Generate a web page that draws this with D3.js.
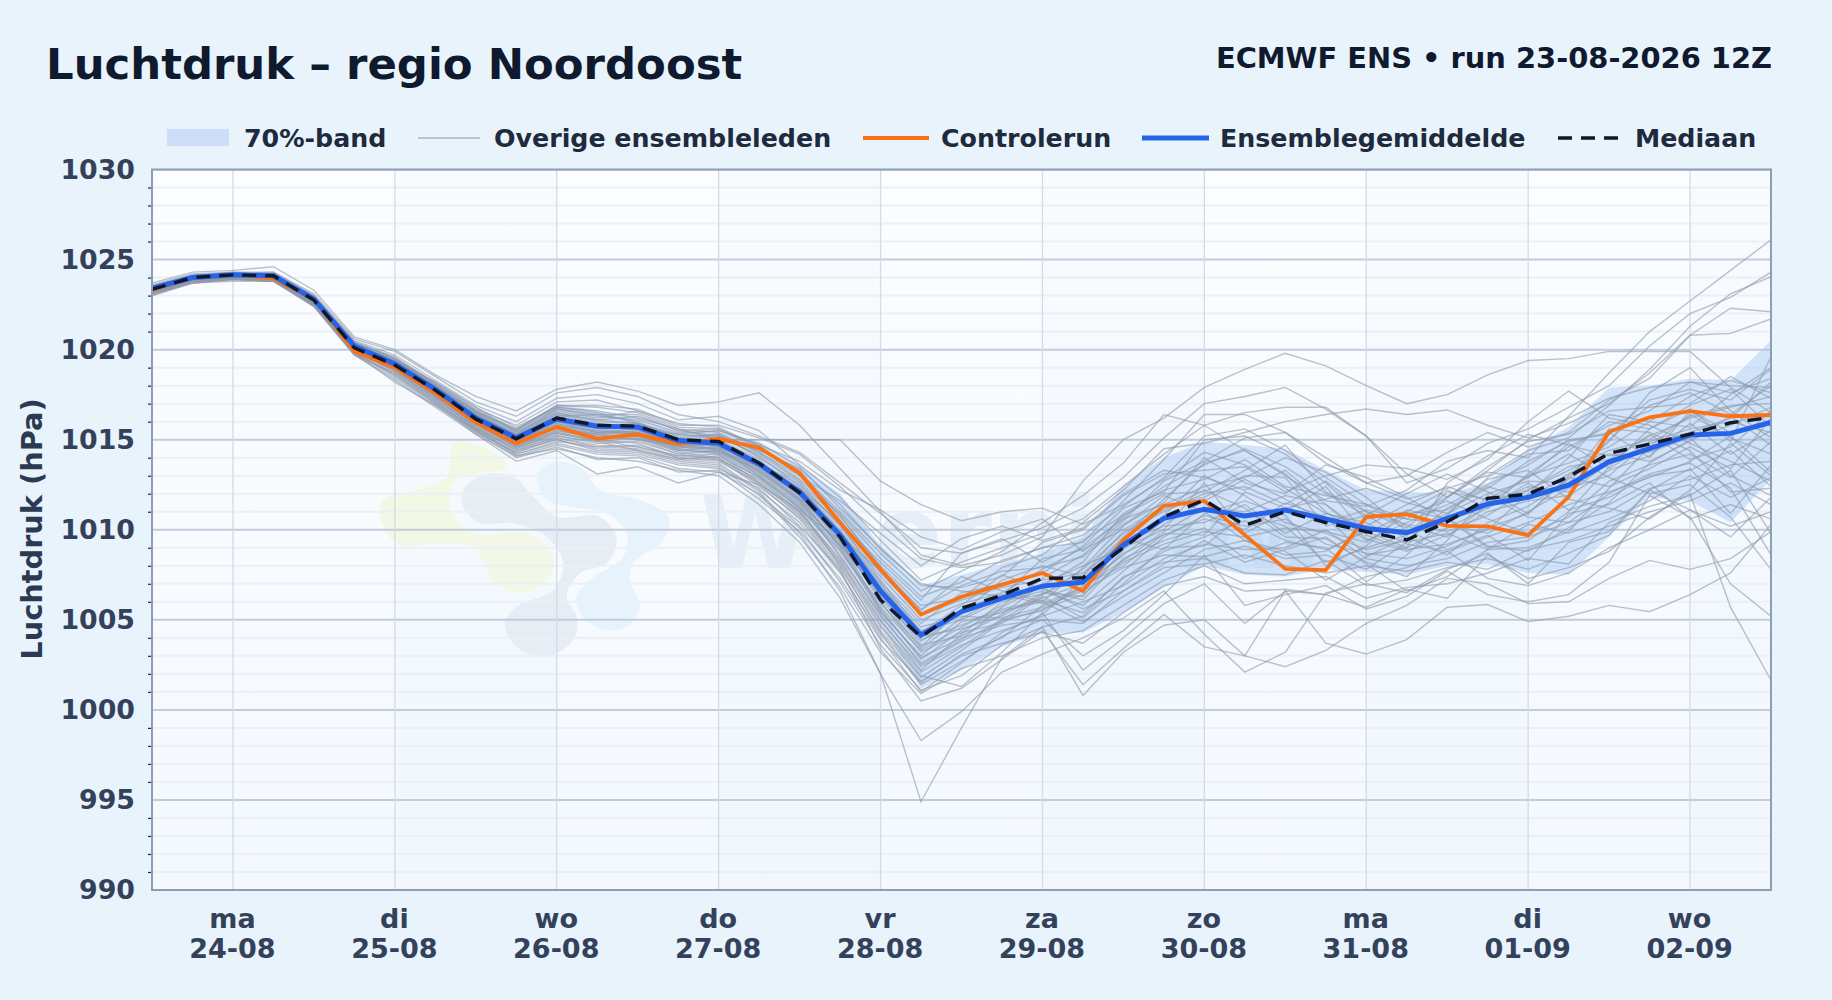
<!DOCTYPE html>
<html lang="nl">
<head>
<meta charset="utf-8">
<title>Luchtdruk - regio Noordoost</title>
<script src="https://d3js.org/d3.v7.min.js"></script>
<style>
html, body { margin: 0; background: #e8f3fc; }
svg { display: block; }
text { font-family: "DejaVu Sans", sans-serif; font-weight: bold; }
.domain { display: none; }
</style>
</head>
<body>
<script>
// hours since the run start, one point per 6 h
var hours = d3.range(0, 246, 6);

var weekdays = ["ma", "di", "wo", "do", "vr", "za", "zo", "ma", "di", "wo"];
var dates = ["24-08", "25-08", "26-08", "27-08", "28-08", "29-08", "30-08", "31-08", "01-09", "02-09"];
var dayTicks = [12, 36, 60, 84, 108, 132, 156, 180, 204, 228];
var majorTicks = [990, 995, 1000, 1005, 1010, 1015, 1020, 1025, 1030];
var minorTicks = d3.range(990, 1031).filter(function(d) { return d % 5 != 0; });

var control = [1023.3,1024.0,1024.15,1023.95, 1022.8,1019.9,1019.0,1017.6,1015.95,1014.8, 1015.7,1015.05,1015.3,1014.75,1015.05,1014.55,1013.15, 1010.4,1007.8,1005.3,1006.28,1006.95,1007.6,1006.6, 1009.43,1011.33,1011.6,1009.7,1007.83,1007.76,1010.72, 1010.87,1010.22,1010.19,1009.7,1011.83,1015.44,1016.24, 1016.59,1016.3,1016.37];
var mean = [1023.4,1024.0,1024.15,1024.1, 1022.8,1020.2,1019.2,1017.8,1016.2,1015.1, 1016.15,1015.75,1015.7,1014.95,1014.8,1013.65,1012.1, 1009.7,1006.6,1004.15,1005.45,1006.2,1006.87,1007.1, 1009.15,1010.63,1011.13,1010.76,1011.09,1010.6,1010.07, 1009.83,1010.63,1011.43,1011.8,1012.48,1013.77,1014.5, 1015.26,1015.35,1015.96];
var median = [1023.35,1024.0,1024.15,1024.1, 1022.75,1020.1,1019.15,1017.75,1016.15,1015.05, 1016.2,1015.8,1015.75,1015.0,1014.9,1013.7,1012.05, 1009.6,1006.1,1004.05,1005.65,1006.37,1007.3,1007.33, 1009.0,1010.72,1011.65,1010.25,1011.0,1010.4,1009.9, 1009.43,1010.44,1011.74,1011.98,1012.94,1014.24,1014.76, 1015.31,1015.94,1016.24];
var bandHigh = [1023.6,1024.2,1024.3,1024.3, 1023.0,1020.5,1019.6,1018.2,1016.7,1015.6, 1017.0,1016.6,1016.3,1015.4,1015.4,1014.9,1013.6, 1012.0,1009.1,1006.9,1007.5,1008.1,1008.7,1009.6, 1012.5,1014.0,1014.9,1014.7,1014.5,1013.3,1012.2, 1012.1,1012.0,1012.6,1014.5,1015.7,1017.9,1018.0, 1018.4,1018.3,1020.5];
var bandLow = [1023.2,1023.8,1024.0,1023.9, 1022.6,1019.9,1018.9,1017.4,1015.8,1014.6, 1015.3,1015.0,1015.0,1014.3,1014.1,1012.8,1011.0, 1008.7,1004.8,1001.2,1002.2,1003.5,1004.25,1004.3, 1005.4,1006.8,1008.0,1007.5,1007.4,1007.8,1007.65, 1007.5,1008.0,1008.1,1007.6,1007.5,1009.6,1011.8, 1011.6,1010.4,1012.8];

var members = [
[1023.7,1024.3,1024.4,1024.6, 1023.3,1020.7,1020.0,1018.6,1017.4,1016.6, 1017.8,1018.2,1017.7,1016.9,1017.1,1017.6,1015.8, 1013.4,1011.0,1008.6,1008.0,1008.6,1009.6,1012.7, 1015.0,1016.2,1017.9,1018.9,1019.8,1019.1,1018.0, 1017.0,1017.5,1018.6,1019.4,1019.5,1019.9,1019.9, 1019.9,1017.9,1016.5],
[1023.3,1023.9,1024.1,1024.0, 1022.7,1020.3,1019.3,1017.9,1016.6,1015.6, 1016.8,1016.6,1016.2,1015.6,1015.0,1015.0,1015.0, 1015.0,1012.7,1011.4,1010.5,1011.0,1011.2,1010.3, 1011.4,1012.8,1014.3,1013.6,1012.3,1010.9,1010.2, 1011.4,1012.4,1011.6,1012.2,1013.3,1014.4,1015.0, 1016.3,1016.9,1017.0],
[1023.6,1024.2,1024.3,1024.3, 1023.1,1020.6,1019.9,1018.5,1017.1,1016.3, 1017.6,1017.9,1017.4,1016.4,1016.0,1015.2,1014.3, 1012.6,1010.9,1009.0,1008.7,1009.4,1010.1,1011.2, 1012.9,1015.1,1017.0,1017.4,1017.9,1016.7,1015.2, 1013.1,1011.8,1013.3,1015.0,1016.2,1017.3,1017.9, 1018.2,1017.6,1018.4],
[1023.5,1024.1,1024.3,1024.2, 1023.0,1020.5,1019.7,1018.3,1016.9,1016.0, 1017.3,1017.5,1017.0,1016.1,1016.3,1015.5,1013.6, 1011.8,1009.4,1007.2,1008.2,1009.0,1009.8,1010.6, 1012.4,1014.2,1015.8,1016.5,1016.8,1016.8,1015.2, 1012.6,1013.4,1014.8,1015.6,1016.8,1018.0,1020.2, 1022.0,1022.9,1024.3],
[1023.4,1024.1,1024.2,1024.2, 1022.9,1020.4,1019.5,1018.1,1016.7,1015.8, 1017.1,1017.2,1016.6,1015.9,1015.7,1014.6,1013.1, 1011.0,1008.7,1006.6,1007.7,1008.8,1010.4,1011.9, 1013.7,1016.4,1015.8,1014.4,1013.0,1011.6,1011.3, 1012.2,1013.8,1014.4,1014.0,1016.3,1018.7,1021.0, 1022.7,1024.4,1026.1],
[1023.2,1023.9,1024.1,1024.0, 1022.7,1020.3,1019.4,1018.0,1016.5,1015.6, 1016.9,1016.8,1016.5,1015.6,1015.4,1014.3,1012.8, 1010.9,1008.4,1006.3,1007.1,1008.3,1009.0,1009.3, 1011.6,1013.9,1016.4,1016.4,1015.4,1014.0,1012.6, 1011.7,1012.3,1013.0,1014.4,1015.1,1016.9,1018.9, 1021.3,1023.1,1024.05],
[1023.5,1024.0,1024.2,1024.1, 1022.8,1020.3,1019.4,1018.2,1016.8,1015.4, 1016.6,1016.2,1016.6,1015.7,1015.6,1014.5,1013.3, 1010.7,1008.0,1005.8,1006.2,1007.9,1008.6,1010.4, 1012.2,1014.5,1014.8,1015.4,1016.0,1016.4,1016.7, 1016.4,1016.65,1015.8,1015.1,1015.9,1017.0,1018.7, 1020.8,1022.3,1022.1],
[1023.1,1023.8,1024.0,1023.9, 1022.5,1020.0,1019.0,1017.6,1016.0,1014.9, 1015.9,1015.4,1015.3,1014.6,1014.8,1013.2,1011.6, 1009.1,1005.7,1003.3,1004.6,1005.8,1007.3,1008.6, 1010.5,1012.7,1013.8,1015.1,1015.4,1013.7,1012.6, 1013.0,1014.3,1015.4,1014.6,1015.4,1017.2,1018.4, 1020.8,1020.9,1021.7],
[1023.3,1023.9,1024.2,1024.0, 1022.6,1020.2,1019.1,1017.7,1016.3,1015.2, 1016.3,1016.4,1016.0,1015.0,1015.2,1014.1,1012.4, 1010.0,1007.1,1004.8,1006.5,1007.0,1007.6,1009.1, 1011.2,1012.1,1015.0,1015.2,1014.2,1012.6,1010.6, 1011.0,1012.2,1011.2,1013.1,1014.6,1015.8,1016.6, 1018.2,1018.0,1017.9],
[1023.4,1024.0,1024.1,1024.1, 1022.8,1020.1,1019.2,1017.8,1016.1,1014.9, 1016.0,1015.6,1015.7,1014.7,1014.5,1013.4,1011.9, 1009.3,1006.3,1003.8,1005.4,1007.2,1008.0,1007.4, 1009.6,1011.7,1013.7,1014.4,1013.1,1011.0,1009.4, 1010.4,1011.4,1012.5,1013.6,1015.0,1015.3,1017.2, 1017.8,1017.2,1018.9],
[1023.2,1023.8,1024.0,1023.9, 1022.6,1020.0,1019.0,1017.4,1015.9,1014.7, 1015.7,1015.2,1015.2,1014.4,1014.6,1013.0,1011.3, 1008.6,1005.2,1002.6,1003.9,1005.7,1006.9,1008.2, 1010.9,1012.2,1012.8,1013.9,1012.4,1011.9,1011.4, 1010.2,1009.6,1011.4,1013.0,1013.7,1014.6,1016.0, 1017.4,1018.3,1017.6],
[1023.5,1024.1,1024.2,1024.2, 1022.9,1020.3,1019.3,1017.9,1016.4,1015.3, 1016.5,1016.0,1015.9,1015.2,1015.3,1014.0,1012.6, 1010.2,1007.4,1005.0,1005.9,1006.5,1007.8,1009.0, 1010.6,1011.4,1012.4,1012.9,1014.0,1013.2,1011.8, 1009.9,1010.9,1012.0,1012.7,1012.6,1015.0,1016.9, 1017.6,1016.4,1018.0],
[1023.3,1023.9,1024.1,1024.1, 1022.8,1020.2,1019.2,1017.7,1016.2,1015.0, 1016.1,1015.8,1015.5,1014.9,1014.4,1013.5,1012.0, 1009.6,1006.8,1004.4,1005.0,1006.1,1006.4,1007.8, 1009.8,1011.0,1012.0,1012.4,1011.4,1012.7,1011.0, 1010.3,1009.9,1010.8,1012.2,1013.5,1013.9,1015.2, 1016.2,1016.8,1017.4],
[1023.2,1023.9,1024.0,1024.0, 1022.7,1020.1,1019.1,1017.6,1016.0,1014.8, 1015.8,1015.5,1015.4,1014.6,1014.3,1013.3,1011.8, 1009.0,1005.4,1003.0,1004.9,1005.4,1006.2,1007.0, 1008.6,1010.3,1011.6,1012.8,1011.7,1010.4,1011.1, 1010.6,1010.3,1009.8,1011.0,1012.3,1013.0,1014.9, 1015.6,1016.0,1015.4],
[1023.4,1024.0,1024.2,1024.1, 1022.8,1020.2,1019.3,1017.9,1016.3,1015.1, 1016.2,1015.7,1015.8,1015.1,1014.9,1013.8,1012.3, 1009.9,1007.0,1004.1,1004.5,1005.2,1006.5,1006.3, 1008.9,1010.8,1013.0,1011.9,1010.4,1009.8,1008.9, 1009.4,1011.2,1012.4,1011.7,1013.1,1014.2,1013.8, 1014.9,1016.3,1014.7],
[1023.3,1023.9,1024.1,1024.0, 1022.7,1020.0,1019.0,1017.5,1015.9,1014.6, 1015.5,1015.1,1015.2,1014.5,1014.2,1012.9,1011.2, 1008.8,1005.9,1003.5,1005.6,1006.4,1005.9,1006.8, 1008.3,1009.9,1011.2,1011.0,1011.9,1011.4,1009.5, 1008.8,1009.7,1011.0,1011.6,1011.9,1013.3,1014.1, 1015.9,1014.2,1015.5],
[1023.2,1023.8,1024.0,1023.9, 1022.5,1019.9,1018.8,1017.3,1015.7,1014.5, 1015.4,1014.9,1015.1,1014.3,1014.0,1012.7,1011.0, 1008.4,1005.0,1002.2,1004.2,1006.0,1006.6,1005.8, 1007.7,1009.6,1010.8,1010.2,1010.6,1009.2,1008.7, 1008.4,1009.1,1010.1,1010.9,1012.9,1012.4,1013.4, 1014.6,1013.4,1016.2],
[1023.4,1024.0,1024.1,1024.1, 1022.9,1020.3,1019.4,1018.0,1016.4,1015.3, 1016.4,1015.9,1015.6,1015.3,1015.1,1014.2,1012.7, 1010.5,1007.6,1005.3,1006.1,1006.8,1007.2,1007.6, 1009.3,1010.2,1010.4,1011.4,1009.8,1010.9,1010.4, 1009.2,1008.8,1009.6,1010.4,1011.4,1012.1,1012.9, 1013.8,1015.2,1013.2],
[1023.1,1023.8,1023.9,1023.8, 1022.5,1019.8,1018.7,1017.2,1015.6,1014.4, 1015.2,1014.8,1014.9,1014.2,1013.9,1012.4,1010.7, 1007.9,1004.4,1001.8,1003.3,1004.9,1005.6,1006.4, 1008.2,1009.2,1009.9,1009.6,1010.1,1009.9,1009.3, 1010.8,1011.6,1010.6,1009.8,1010.7,1012.7,1013.6, 1014.2,1012.9,1014.9],
[1023.3,1023.9,1024.0,1024.0, 1022.6,1020.1,1019.2,1017.6,1016.0,1014.8, 1015.6,1015.3,1015.0,1014.7,1014.4,1013.1,1011.5, 1009.2,1006.5,1003.9,1004.7,1005.6,1006.1,1005.4, 1007.3,1008.8,1009.6,1010.5,1009.4,1008.9,1009.9, 1009.0,1010.1,1011.2,1012.6,1011.1,1011.8,1013.0, 1013.3,1014.4,1012.4],
[1023.2,1023.8,1024.0,1023.9, 1022.6,1019.9,1018.9,1017.4,1015.8,1014.6, 1015.3,1015.0,1014.6,1014.1,1014.2,1012.6,1010.9, 1008.2,1004.9,1002.4,1003.6,1004.4,1005.2,1006.0, 1006.9,1008.4,1009.2,1008.9,1009.0,1010.0,1008.4, 1008.0,1008.4,1009.3,1009.6,1010.4,1011.0,1012.3, 1012.8,1013.6,1013.8],
[1023.4,1023.9,1024.1,1024.0, 1022.7,1020.0,1019.0,1017.7,1016.1,1014.9, 1015.9,1015.4,1015.4,1014.8,1014.6,1013.6,1012.2, 1009.8,1006.9,1004.6,1005.2,1005.1,1005.7,1006.6, 1007.9,1008.6,1008.5,1009.1,1008.4,1008.6,1007.8, 1009.3,1009.8,1008.9,1010.3,1009.8,1010.6,1011.6, 1013.0,1011.8,1012.9],
[1023.1,1023.7,1023.9,1023.8, 1022.5,1019.8,1018.6,1017.1,1015.5,1014.2, 1014.9,1014.6,1014.5,1013.9,1013.7,1012.2,1010.4, 1007.6,1004.2,1001.4,1002.7,1004.1,1005.0,1004.8, 1006.6,1007.9,1008.1,1008.6,1008.0,1007.6,1008.0, 1007.7,1008.2,1007.8,1008.9,1009.4,1010.2,1011.0, 1011.6,1012.6,1011.4],
[1023.2,1023.8,1023.9,1023.9, 1022.6,1019.9,1018.8,1017.2,1015.4,1014.3, 1015.0,1014.4,1014.3,1013.7,1013.5,1011.9,1010.1, 1007.1,1003.6,1001.1,1001.9,1003.6,1004.6,1005.2, 1007.4,1008.2,1008.4,1007.6,1007.5,1008.3,1006.9, 1007.2,1007.9,1008.4,1007.8,1008.7,1009.7,1012.2, 1013.4,1010.9,1013.6],
[1023.3,1023.9,1024.0,1023.9, 1022.5,1019.8,1018.6,1017.0,1015.3,1014.1, 1014.7,1014.2,1014.1,1013.4,1013.2,1012.0,1009.6, 1006.8,1003.2,1000.9,1002.3,1003.0,1004.0,1004.4, 1005.8,1007.2,1008.0,1007.0,1007.2,1007.4,1006.2, 1006.8,1007.0,1007.6,1008.4,1008.1,1010.4,1011.3, 1011.9,1013.3,1009.8],
[1023.1,1023.7,1023.8,1023.8, 1022.4,1019.7,1018.4,1016.9,1015.4,1014.0, 1014.6,1013.9,1014.0,1013.2,1013.3,1011.7,1009.9, 1007.3,1003.9,1001.6,1003.0,1003.7,1004.3,1003.7, 1005.4,1006.9,1007.4,1006.6,1006.7,1006.4,1007.4, 1007.9,1008.8,1007.3,1006.9,1007.6,1009.0,1010.0, 1011.1,1010.2,1011.0],
[1023.0,1023.7,1023.9,1023.8, 1022.4,1019.7,1018.3,1016.8,1015.3,1013.8, 1014.4,1013.1,1013.5,1012.6,1013.2,1012.5,1011.1, 1009.4,1005.5,1002.9,1004.0,1004.7,1005.0,1003.0, 1004.4,1006.4,1008.6,1005.8,1006.4,1006.9,1005.6, 1006.3,1007.7,1006.4,1006.0,1006.4,1008.2,1011.9, 1010.7,1007.0,1005.2],
[1023.2,1023.8,1024.0,1023.8, 1022.6,1019.8,1018.5,1017.0,1015.6,1014.2, 1014.8,1014.3,1014.2,1013.6,1013.4,1012.3,1010.2, 1007.8,1003.4,1000.5,1001.2,1002.8,1004.4,1001.4, 1003.4,1005.3,1003.5,1003.0,1002.4,1003.3,1004.8, 1005.8,1007.3,1007.0,1005.9,1006.0,1007.3,1008.3, 1007.8,1008.4,1009.9],
[1023.1,1023.8,1023.9,1023.8, 1022.5,1019.8,1018.2,1016.9,1015.5,1014.1, 1014.5,1014.0,1013.8,1013.3,1013.0,1011.4,1009.3, 1006.2,1002.0,998.3,999.9,1002.1,1003.1,1004.0, 1005.1,1006.6,1004.2,1002.1,1003.2,1006.5,1007.0, 1006.5,1007.8,1008.7,1007.0,1009.3,1009.9,1012.2, 1011.1,1009.6,1011.8],
[1023.3,1023.8,1024.0,1023.9, 1022.6,1020.0,1018.9,1017.3,1015.7,1014.4, 1015.0,1014.5,1014.4,1013.8,1013.6,1012.1,1009.8, 1006.6,1002.0,994.9,999.0,1002.9,1004.6,1000.8, 1003.2,1004.7,1005.0,1003.0,1006.6,1003.7,1003.1, 1003.9,1005.7,1005.85,1004.9,1005.2,1005.8,1005.45, 1006.4,1007.6,1010.3],
[1023.0,1023.7,1023.9,1023.8, 1022.4,1019.7,1018.7,1017.1,1015.5,1014.3, 1015.1,1014.7,1014.6,1014.0,1013.8,1012.6,1010.8, 1008.1,1004.6,1001.9,1001.3,1003.2,1005.4,1002.2, 1004.0,1005.9,1007.0,1004.8,1006.6,1006.4,1005.7, 1006.7,1006.2,1008.6,1007.3,1007.9,1008.8,1010.7, 1012.0,1005.7,1001.65],
[1023.4,1024.0,1024.2,1024.2, 1022.9,1020.4,1019.6,1018.1,1016.6,1015.5, 1016.7,1016.3,1016.1,1015.4,1015.5,1014.7,1013.0, 1010.8,1007.9,1005.5,1007.4,1006.6,1006.0,1007.9, 1010.2,1011.9,1011.0,1009.4,1008.8,1007.2,1008.5, 1009.6,1008.6,1010.4,1011.3,1012.8,1015.6,1015.4, 1014.4,1012.1,1012.3],
[1023.3,1023.9,1024.1,1024.0, 1022.7,1020.1,1019.1,1017.8,1016.2,1014.9, 1015.8,1015.3,1015.5,1014.8,1014.7,1013.7,1012.5, 1010.3,1007.2,1004.3,1005.8,1007.5,1006.7,1006.1, 1008.4,1009.4,1010.1,1008.4,1009.3,1009.0,1007.1, 1008.6,1010.7,1009.1,1008.8,1010.1,1011.5,1013.7, 1015.0,1015.8,1016.8],
[1023.4,1024.0,1024.1,1024.0, 1022.8,1020.2,1019.2,1017.8,1016.4,1015.2, 1016.0,1015.5,1015.3,1014.5,1015.0,1013.9,1012.0, 1009.5,1006.0,1003.2,1004.3,1004.8,1006.3,1005.1, 1007.0,1009.0,1009.1,1010.9,1010.2,1008.2,1009.0, 1009.7,1011.8,1013.2,1012.9,1014.2,1012.9,1012.0, 1012.5,1010.7,1007.8],
[1023.2,1023.9,1024.0,1024.0, 1022.6,1020.0,1018.9,1017.5,1015.9,1014.7, 1015.4,1015.0,1014.8,1014.0,1013.9,1012.8,1011.0, 1008.3,1004.7,1002.1,1003.5,1005.0,1005.5,1006.9, 1008.0,1009.8,1009.7,1012.1,1011.2,1011.7,1012.3, 1011.5,1010.9,1012.8,1013.3,1011.7,1011.2,1010.6, 1012.2,1014.8,1013.0],
[1023.3,1023.9,1024.1,1024.1, 1022.7,1020.1,1019.3,1017.9,1016.2,1015.0, 1016.1,1015.6,1015.4,1014.9,1014.8,1013.4,1011.7, 1009.1,1006.4,1003.6,1004.1,1005.3,1007.0,1008.0, 1009.0,1010.0,1012.6,1009.8,1011.0,1012.4,1009.7, 1008.9,1009.2,1010.0,1012.0,1014.0,1016.4,1016.0, 1015.7,1017.5,1019.0],
[1023.4,1024.0,1024.2,1024.1, 1022.8,1020.2,1019.4,1018.0,1016.5,1015.4, 1016.5,1016.1,1016.3,1015.5,1015.2,1014.4,1013.4, 1011.4,1008.9,1007.0,1006.6,1006.3,1008.4,1008.9, 1010.0,1011.3,1011.8,1013.0,1012.9,1010.2,1010.8, 1012.0,1013.1,1012.1,1010.9,1013.0,1014.9,1017.6, 1019.0,1016.6,1015.1],
[1023.1,1023.8,1023.9,1023.9, 1022.5,1019.9,1018.8,1017.3,1015.6,1014.5, 1015.1,1014.6,1014.7,1014.1,1014.0,1012.5,1010.6, 1007.7,1004.0,1001.0,1002.6,1004.3,1005.3,1007.2, 1009.5,1008.9,1010.9,1011.6,1010.8,1008.0,1009.1, 1011.1,1010.6,1009.0,1009.4,1011.0,1013.5,1015.6, 1016.7,1014.9,1019.6],
[1023.5,1024.1,1024.2,1024.3, 1023.0,1020.4,1019.5,1018.2,1016.8,1015.7, 1016.8,1016.5,1015.9,1015.3,1015.5,1014.8,1013.5, 1011.2,1009.0,1006.9,1006.8,1007.4,1009.3,1010.0, 1011.9,1013.1,1013.3,1013.5,1012.1,1013.0,1013.6, 1013.4,1012.8,1013.9,1016.0,1017.7,1016.2,1015.8, 1014.8,1013.8,1012.7],
[1023.2,1023.8,1024.0,1024.0, 1022.6,1020.0,1019.0,1017.5,1015.8,1014.7, 1015.5,1015.1,1015.1,1014.4,1014.3,1013.0,1011.4, 1008.9,1005.6,1002.8,1004.4,1005.5,1006.0,1004.9, 1006.3,1007.6,1008.9,1009.4,1008.6,1008.8,1010.0, 1010.0,1008.9,1009.7,1008.3,1010.9,1011.4,1012.6, 1010.6,1011.4,1010.6],
[1023.3,1023.9,1024.1,1024.0, 1022.7,1020.1,1019.1,1017.7,1016.1,1015.0, 1016.0,1015.4,1015.6,1014.9,1014.6,1013.5,1011.9, 1009.4,1006.2,1003.4,1005.1,1006.3,1006.8,1005.6, 1006.6,1008.1,1009.4,1008.2,1008.9,1009.6,1008.1, 1006.6,1007.4,1008.9,1009.0,1009.9,1012.3,1014.6, 1016.4,1015.1,1014.2],
[1023.4,1023.9,1024.1,1024.0, 1022.7,1020.2,1019.2,1017.6,1016.0,1014.9, 1015.7,1015.2,1015.0,1014.2,1014.4,1013.3,1011.6, 1008.5,1005.3,1002.5,1003.8,1005.0,1006.4,1007.5, 1009.9,1011.1,1012.2,1011.2,1009.6,1009.5,1008.2, 1007.4,1009.4,1011.9,1010.7,1010.4,1012.0,1013.1, 1013.7,1012.3,1008.6],
[1023.2,1023.8,1024.0,1023.9, 1022.6,1019.9,1019.0,1017.4,1015.7,1014.6, 1015.2,1014.9,1014.4,1013.9,1014.1,1012.9,1011.2, 1008.0,1004.3,1001.5,1003.1,1004.0,1005.8,1006.7, 1008.7,1009.7,1010.6,1010.0,1011.5,1010.7,1008.6, 1009.0,1012.6,1014.1,1015.3,1014.7,1014.1,1014.3, 1015.1,1013.0,1011.9],
[1023.5,1024.1,1024.2,1024.2, 1022.9,1020.4,1019.5,1018.0,1016.6,1015.5, 1016.9,1016.9,1016.7,1015.8,1015.8,1015.1,1014.2, 1012.4,1010.3,1008.4,1007.9,1008.2,1009.0,1009.7, 1011.3,1012.9,1015.2,1015.6,1014.4,1012.9,1011.4, 1010.6,1011.8,1013.5,1014.9,1015.3,1016.6,1016.8, 1017.0,1018.5,1017.3],
[1023.3,1024.0,1024.1,1024.1, 1022.8,1020.3,1019.4,1017.9,1016.5,1015.3, 1016.7,1016.4,1016.4,1015.5,1015.6,1014.7,1013.8, 1012.2,1011.1,1009.6,1008.9,1009.9,1010.6,1008.8, 1010.7,1012.4,1013.6,1014.5,1013.5,1012.0,1010.8, 1009.5,1010.8,1012.9,1014.2,1014.4,1016.0,1015.6, 1016.9,1017.8,1015.7],
[1023.4,1024.0,1024.2,1024.0, 1022.7,1020.2,1019.3,1017.8,1016.3,1015.2, 1016.4,1016.1,1015.9,1015.1,1015.3,1014.3,1013.0, 1011.6,1009.8,1008.0,1009.5,1010.2,1009.4,1010.1, 1012.0,1013.3,1012.9,1012.2,1013.3,1011.4,1009.8, 1010.9,1011.1,1012.3,1013.8,1014.9,1015.4,1014.0, 1016.6,1015.4,1016.1],
[1023.2,1023.8,1024.1,1024.0, 1022.6,1020.1,1019.2,1017.7,1016.2,1014.8, 1016.2,1015.7,1015.6,1014.9,1014.9,1013.6,1012.3, 1010.4,1008.2,1006.1,1008.7,1009.5,1008.2,1009.4, 1010.8,1012.0,1012.1,1013.3,1014.7,1012.1,1011.0, 1010.1,1012.1,1011.7,1012.9,1014.8,1013.4,1014.8, 1015.4,1016.2,1018.2],
[1023.3,1023.9,1024.0,1024.0, 1022.7,1020.1,1019.0,1017.6,1016.1,1015.0, 1015.7,1015.3,1015.2,1014.6,1014.5,1013.2,1011.7, 1009.7,1007.7,1005.6,1006.9,1007.7,1007.9,1008.5, 1010.3,1011.5,1014.0,1012.6,1012.0,1013.6,1012.9, 1011.8,1010.5,1011.3,1012.4,1012.1,1013.7,1015.3, 1013.9,1014.6,1016.6]
];

var width = 1832, height = 1000;
var margin = {left: 152, right: 61, top: 169.5, bottom: 110};

var x = d3.scaleLinear().domain([0, 240]).range([margin.left, width - margin.right]);
var y = d3.scaleLinear().domain([990, 1030]).range([height - margin.bottom, margin.top]);

var svg = d3.select("body").append("svg").attr("width", width).attr("height", height);

var grad = svg.append("defs").append("linearGradient").attr("id", "plotbg")
    .attr("x1", 0).attr("y1", 0).attr("x2", 0).attr("y2", 1);
grad.append("stop").attr("offset", 0).attr("stop-color", "#fbfdff");
grad.append("stop").attr("offset", 1).attr("stop-color", "#f4f9fe");
svg.select("defs").append("clipPath").attr("id", "plotclip").append("rect")
    .attr("x", x(0)).attr("y", y(1030)).attr("width", x(240) - x(0)).attr("height", y(990) - y(1030));

svg.append("rect").attr("x", x(0)).attr("y", y(1030))
    .attr("width", x(240) - x(0)).attr("height", y(990) - y(1030))
    .attr("fill", "url(#plotbg)");

var plot = svg.append("g").attr("clip-path", "url(#plotclip)");

// alternate day shading
plot.selectAll(".day").data([36, 84, 132, 180, 228]).enter().append("rect")
    .attr("x", function(d) { return x(d); }).attr("y", y(1030))
    .attr("width", x(24) - x(0)).attr("height", y(990) - y(1030))
    .attr("fill", "#dbe6f5").attr("opacity", 0.08);

// watermark
var blob = d3.line().curve(d3.curveCatmullRomClosed.alpha(0.5))
    .x(function(d) { return 340 + d[0] / 3; }).y(function(d) { return 400 + d[1] / 3; });
var blobs = [
  {fill: "#f3f8e6", pts: [[130,300],[230,270],[320,230],[340,130],[430,140],[500,200],[350,240],[330,320],[400,400],[560,400],[640,470],[620,540],[530,580],[460,540],[400,440],[300,430],[170,430],[120,350]]},
  {fill: "#e7f3fc", pts: [[590,230],[630,190],[720,200],[780,270],[900,300],[985,350],[970,420],[880,490],[870,540],[900,620],[860,680],[790,690],[720,640],[710,590],[750,540],[850,470],[860,400],[800,340],[690,320],[620,300]]},
  {fill: "#e6edf5", pts: [[370,270],[430,225],[520,230],[580,290],[650,350],[780,350],[830,420],[800,490],[720,520],[680,590],[710,650],[700,720],[620,770],[530,740],[495,670],[530,620],[640,570],[670,490],[620,410],[520,370],[420,370],[370,320]]}
];
plot.selectAll(".blob").data(blobs).enter().append("path")
    .attr("d", function(d) { return blob(d.pts); })
    .attr("fill", function(d) { return d.fill; });
plot.append("text").attr("x", 700).attr("y", 568)
    .attr("font-size", 100).attr("fill", "#e6eff7")
    .text("Weernieuws");

// grid
plot.selectAll(".minor").data(minorTicks).enter().append("line")
    .attr("x1", x(0)).attr("x2", x(240))
    .attr("y1", function(d) { return y(d); }).attr("y2", function(d) { return y(d); })
    .attr("stroke", "#ebf0f6").attr("stroke-width", 2);
plot.selectAll(".major").data(majorTicks).enter().append("line")
    .attr("x1", x(0)).attr("x2", x(240))
    .attr("y1", function(d) { return y(d); }).attr("y2", function(d) { return y(d); })
    .attr("stroke", "#c1ccdd").attr("stroke-width", 2);
plot.selectAll(".vert").data(dayTicks).enter().append("line")
    .attr("x1", function(d) { return x(d); }).attr("x2", function(d) { return x(d); })
    .attr("y1", y(1030)).attr("y2", y(990))
    .attr("stroke", "#d3dbe7").attr("stroke-width", 1.3);

// 70% band
var area = d3.area()
    .x(function(d, i) { return x(hours[i]); })
    .y0(function(d, i) { return y(bandLow[i]); })
    .y1(function(d) { return y(d); });
plot.append("path").attr("d", area(bandHigh)).attr("fill", "#93bcf3").attr("opacity", 0.38);

var line = d3.line()
    .x(function(d, i) { return x(hours[i]); })
    .y(function(d) { return y(d); });

plot.selectAll(".member").data(members).enter().append("path")
    .attr("d", line).attr("fill", "none")
    .attr("stroke", "#8e9aac").attr("stroke-opacity", 0.6).attr("stroke-width", 1.4);

plot.append("path").attr("d", line(control)).attr("fill", "none")
    .attr("stroke", "#f97316").attr("stroke-width", 3.8);
plot.append("path").attr("d", line(mean)).attr("fill", "none")
    .attr("stroke", "#2563eb").attr("stroke-width", 5);
plot.append("path").attr("d", line(median)).attr("fill", "none")
    .attr("stroke", "#0f172a").attr("stroke-width", 3.4).attr("stroke-dasharray", "14,9");

// frame
svg.append("rect").attr("x", x(0)).attr("y", y(1030))
    .attr("width", x(240) - x(0)).attr("height", y(990) - y(1030))
    .attr("fill", "none").attr("stroke", "#8c9db5").attr("stroke-width", 2);

// axes
var yAxis = d3.axisLeft(y).tickValues(majorTicks).tickSize(0).tickPadding(17).tickFormat(d3.format("d"));
var yg = svg.append("g").attr("transform", "translate(" + x(0) + ",0)").call(yAxis);
yg.selectAll("text").attr("font-size", 26.8).attr("fill", "#33415a");

var yMinor = d3.axisLeft(y).tickValues(minorTicks).tickSize(3).tickFormat("");
var ym = svg.append("g").attr("transform", "translate(" + (x(0) - 1) + ",0)").call(yMinor);
ym.selectAll("line").attr("stroke", "#1f2937").attr("stroke-width", 1.2);

var xAxis = d3.axisBottom(x).tickValues(dayTicks).tickSize(0).tickFormat("");
var xg = svg.append("g").attr("transform", "translate(0," + y(990) + ")").call(xAxis);
xg.selectAll(".tick").each(function(d, i) {
    var t = d3.select(this).append("text").attr("text-anchor", "middle")
        .attr("font-size", 27).attr("fill", "#33415a");
    t.append("tspan").attr("x", -1).attr("y", 38).text(weekdays[i]);
    t.append("tspan").attr("x", -1).attr("y", 68).text(dates[i]);
});

svg.append("text").attr("transform", "translate(42,529) rotate(-90)")
    .attr("text-anchor", "middle").attr("font-size", 28.8).attr("fill", "#2b3a52")
    .text("Luchtdruk (hPa)");

// title
svg.append("text").attr("x", 46).attr("y", 79).attr("font-size", 43.4).attr("fill", "#0f1a2e")
    .text("Luchtdruk – regio Noordoost");
svg.append("text").attr("x", 1772).attr("y", 68).attr("text-anchor", "end")
    .attr("font-size", 28.9).attr("fill", "#0f1a2e")
    .text("ECMWF ENS • run 23-08-2026 12Z");

// legend
var legendY = 138;
var lg = svg.append("g").attr("font-size", 25.3);
lg.append("rect").attr("x", 167).attr("y", 129).attr("width", 62).attr("height", 17).attr("fill", "#cddff8");
lg.append("line").attr("x1", 418).attr("x2", 480).attr("y1", legendY).attr("y2", legendY)
    .attr("stroke", "#a9b4c3").attr("stroke-width", 1.4);
lg.append("line").attr("x1", 863).attr("x2", 929).attr("y1", legendY).attr("y2", legendY)
    .attr("stroke", "#f97316").attr("stroke-width", 3.8);
lg.append("line").attr("x1", 1142).attr("x2", 1209).attr("y1", legendY).attr("y2", legendY)
    .attr("stroke", "#2563eb").attr("stroke-width", 5);
lg.append("line").attr("x1", 1558).attr("x2", 1621).attr("y1", legendY).attr("y2", legendY)
    .attr("stroke", "#0f172a").attr("stroke-width", 3.4).attr("stroke-dasharray", "14,9");

var legendLabels = ["70%-band", "Overige ensembleleden", "Controlerun", "Ensemblegemiddelde", "Mediaan"];
var legendX = [244, 494, 941, 1220, 1635];
lg.selectAll(".lab").data(legendLabels).enter().append("text")
    .attr("x", function(d, i) { return legendX[i]; }).attr("y", 146.5)
    .attr("fill", "#1e2a3d").text(function(d) { return d; });
</script>
</body>
</html>
